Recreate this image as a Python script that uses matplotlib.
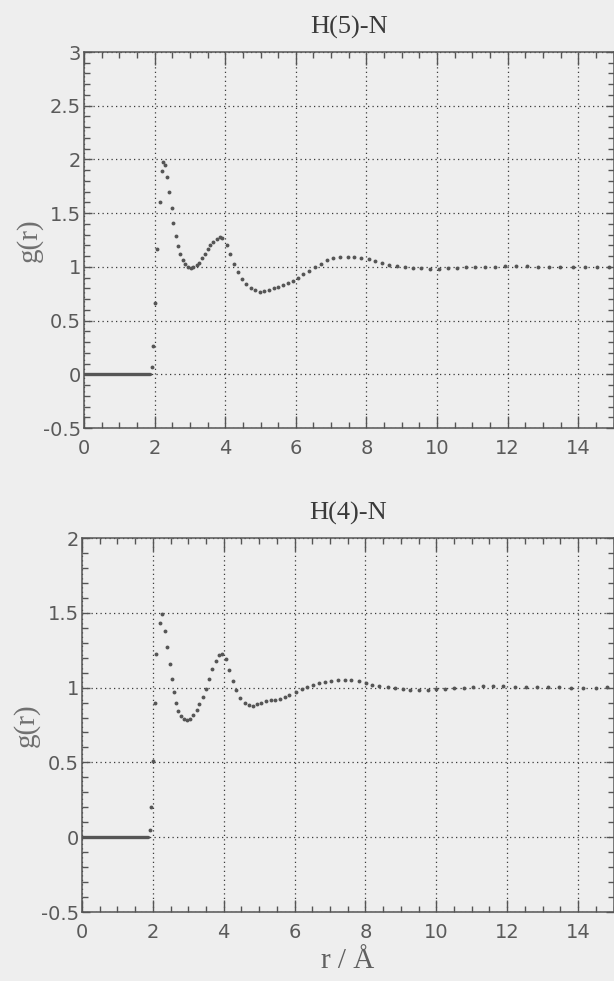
import matplotlib
matplotlib.use("Agg")
import matplotlib.pyplot as plt
from matplotlib.ticker import MultipleLocator

plt.rcParams['axes.unicode_minus'] = False

# ---- radial distribution data ----
# hard-core region (g = 0) below the first contact distance
r_core = [0.0, 1.86]
g_core = [0.0, 0.0]

# H(5)-N
r5 = [1.93, 1.96, 2.02, 2.065, 2.14, 2.197, 2.24, 2.29, 2.36, 2.414,
      2.48, 2.535, 2.60, 2.657, 2.72, 2.797, 2.87, 2.95, 3.03, 3.10,
      3.19, 3.27, 3.34, 3.42, 3.50, 3.58, 3.66, 3.76, 3.85, 3.92,
      4.04, 4.15, 4.26, 4.37, 4.48, 4.60, 4.72, 4.85, 4.98, 5.11,
      5.24, 5.37, 5.50, 5.63, 5.77, 5.91, 6.05, 6.21, 6.37, 6.54,
      6.70, 6.87, 7.05, 7.25, 7.47, 7.66, 7.85, 8.06, 8.25, 8.45,
      8.65, 8.86, 9.10, 9.33, 9.56, 9.80, 10.06, 10.31, 10.56, 10.82,
      11.09, 11.35, 11.65, 11.93, 12.24, 12.56, 12.86, 13.16, 13.48, 13.84,
      14.19, 14.53, 14.87]
g5 = [0.07, 0.26, 0.665, 1.168, 1.60, 1.889, 1.98, 1.95, 1.836, 1.696,
      1.544, 1.41, 1.286, 1.193, 1.118, 1.062, 1.022, 1.0, 0.99, 0.997,
      1.016, 1.04, 1.08, 1.118, 1.165, 1.205, 1.235, 1.26, 1.275, 1.265,
      1.205, 1.124, 1.03, 0.953, 0.888, 0.839, 0.80, 0.783, 0.77, 0.773,
      0.786, 0.80, 0.81, 0.83, 0.85, 0.867, 0.895, 0.932, 0.96, 0.997,
      1.028, 1.06, 1.078, 1.088, 1.09, 1.09, 1.083, 1.07, 1.058, 1.04,
      1.02, 1.006, 1.0, 0.99, 0.987, 0.98, 0.978, 0.99, 0.993, 0.996,
      1.0, 1.003, 1.003, 1.012, 1.008, 1.008, 1.003, 1.0, 1.0, 0.997,
      0.997, 0.997, 1.0]

# H(4)-N
r4 = [1.91, 1.955, 2.0, 2.05, 2.095, 2.19, 2.26, 2.33, 2.386, 2.47,
      2.53, 2.59, 2.64, 2.72, 2.80, 2.885, 2.97, 3.05, 3.14, 3.24,
      3.316, 3.41, 3.49, 3.58, 3.67, 3.77, 3.86, 3.94, 4.05, 4.14,
      4.25, 4.36, 4.47, 4.59, 4.70, 4.82, 4.93, 5.06, 5.19, 5.32,
      5.46, 5.59, 5.72, 5.85, 6.04, 6.20, 6.36, 6.53, 6.70, 6.86,
      7.04, 7.22, 7.41, 7.60, 7.81, 8.02, 8.19, 8.39, 8.63, 8.84,
      9.05, 9.27, 9.50, 9.76, 9.99, 10.25, 10.51, 10.77, 11.04, 11.31,
      11.59, 11.89, 12.21, 12.53, 12.83, 13.14, 13.47, 13.80, 14.15, 14.50,
      14.83]
g4 = [0.049, 0.199, 0.51, 0.896, 1.224, 1.433, 1.493, 1.376, 1.272, 1.155,
      1.058, 0.969, 0.90, 0.845, 0.808, 0.788, 0.781, 0.792, 0.814, 0.849,
      0.891, 0.94, 0.991, 1.055, 1.121, 1.181, 1.217, 1.224, 1.19, 1.12,
      1.044, 0.985, 0.929, 0.90, 0.883, 0.879, 0.89, 0.90, 0.912, 0.916,
      0.92, 0.927, 0.938, 0.951, 0.971, 0.989, 1.005, 1.02, 1.033, 1.04,
      1.046, 1.048, 1.051, 1.051, 1.044, 1.031, 1.02, 1.011, 1.003, 0.998,
      0.991, 0.985, 0.983, 0.985, 0.993, 0.993, 0.996, 1.0, 1.007, 1.009,
      1.009, 1.009, 1.007, 1.005, 1.002, 1.002, 1.002, 1.0, 1.0, 1.0,
      1.002]

x_ticks = [0, 2, 4, 6, 8, 10, 12, 14]

BG = '#eeeeee'
INK = '#555555'
DOT = '#555555'

fig = plt.figure(figsize=(6.14, 9.81), dpi=100, facecolor=BG)


def style_axes(ax, ylim, title, title_pad):
    ax.set_facecolor(BG)
    ax.set_xlim(0, 15)
    ax.set_ylim(*ylim)
    ax.set_xticks(x_ticks)
    ax.xaxis.set_minor_locator(MultipleLocator(0.5))
    ax.yaxis.set_major_locator(MultipleLocator(0.5))
    ax.yaxis.set_minor_locator(MultipleLocator(0.1))
    ax.set_yticklabels([('%g' % v) for v in ax.get_yticks()])
    ax.tick_params(which='both', direction='in', top=True, right=True,
                   colors=INK, labelcolor='#5a5a5a', width=1.0)
    ax.tick_params(axis='x', which='major', length=9, pad=8, labelsize=14)
    ax.tick_params(axis='x', which='minor', length=4)
    ax.tick_params(axis='y', which='major', length=6, pad=2, labelsize=14)
    ax.tick_params(axis='y', which='minor', length=4.5)
    for s in ax.spines.values():
        s.set_color(INK)
        s.set_linewidth(1.1)
    ax.grid(True, which='major', linestyle=(0, (1, 2.6)), color='#3a3a3a',
            linewidth=0.9)
    ax.set_axisbelow(True)
    ax.set_title(title, family='Liberation Serif', fontsize=19, color='#3a3a3a',
                 pad=title_pad)
    ax.set_ylabel('g(r)', family='Liberation Serif', fontsize=21, color='#707070',
                  va='center')
    ax.yaxis.set_label_coords(-0.104, 0.5)


ax1 = fig.add_axes([84 / 614, 1 - 428 / 981, 529.5 / 614, 376 / 981])
style_axes(ax1, (-0.5, 3.0), 'H(5)-N', 13.5)
ax1.plot(r_core, g_core, color=DOT, linewidth=2.4, solid_capstyle='round')
ax1.plot(r5, g5, linestyle='none', marker='o', markersize=2.8, color=DOT,
         markeredgewidth=0)

ax2 = fig.add_axes([82 / 614, 1 - 912 / 981, 531.5 / 614, 374 / 981])
style_axes(ax2, (-0.5, 2.0), 'H(4)-N', 13)
ax2.plot(r_core, g_core, color=DOT, linewidth=2.4, solid_capstyle='round')
ax2.plot(r4, g4, linestyle='none', marker='o', markersize=2.8, color=DOT,
         markeredgewidth=0)
ax2.set_xlabel('r / Å', family='Liberation Serif', fontsize=21, color='#606060',
               va='center')
ax2.xaxis.set_label_coords(0.5, -(961 - 912) / 374)

fig.savefig('out.png', dpi=100, facecolor=BG)
